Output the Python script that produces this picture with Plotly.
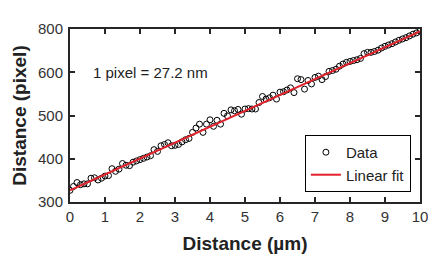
import plotly.graph_objects as go

# Data: distance along profile (µm) vs distance (pixel)
x_um = [round(i * 0.1, 1) for i in range(101)]
y_pixel = [327, 336, 345, 340, 342, 342, 355, 356, 351, 355,
           360, 361, 377, 371, 376, 389, 385, 384, 392, 395,
           398, 401, 404, 407, 421, 417, 430, 433, 437, 430,
           431, 433, 439, 444, 447, 461, 471, 480, 461, 480,
           490, 475, 489, 480, 505, 499, 513, 511, 514, 503,
           515, 516, 515, 515, 530, 544, 538, 541, 547, 538,
           554, 555, 559, 564, 553, 585, 583, 561, 581, 573,
           588, 591, 583, 590, 602, 604, 607, 614, 619, 623,
           625, 627, 629, 632, 643, 646, 646, 648, 651, 656,
           660, 663, 666, 670, 674, 677, 680, 684, 688, 691,
           695]

fit_x = [0, 10]
fit_y = [327.0, 694.6]

x_ticks = list(range(0, 11))
y_tickvals = [300, 400, 500, 600, 700]
y_ticktext = ["300", "400", "500", "600", "800"]

FONT = "Liberation Sans, Arial, sans-serif"
AX = "#262626"

fig = go.Figure()
fig.add_trace(go.Scatter(
    x=x_um, y=y_pixel, mode="markers", name="Data",
    marker=dict(symbol="circle-open", size=6, color="black",
                line=dict(width=1, color="black")),
))
fig.add_trace(go.Scatter(
    x=fit_x, y=fit_y, mode="lines", name="Linear fit",
    line=dict(color="#e3212b", width=2),
))

axis_common = dict(
    showline=True, linewidth=2, linecolor=AX, mirror="ticks",
    ticks="inside", ticklen=5, tickwidth=1.5, tickcolor=AX,
    showgrid=False, zeroline=False, automargin=False,
    tickfont=dict(family=FONT, size=15, color="#333333"),
)

fig.update_xaxes(
    range=[0, 10], tickvals=x_ticks, **axis_common,
    title=dict(text="<b>Distance (µm)</b>", standoff=13,
               font=dict(family=FONT, size=19, color="#222222")),
)
fig.update_yaxes(
    range=[300, 700], tickvals=y_tickvals, ticktext=y_ticktext,
    ticklabelstandoff=2, **axis_common,
    title=dict(text="<b>Distance (pixel)</b>", standoff=6,
               font=dict(family=FONT, size=19, color="#222222")),
)

fig.add_annotation(
    x=0.59, y=600, xref="x", yref="y", text="1 pixel = 27.2 nm",
    showarrow=False, xanchor="left", yanchor="middle",
    font=dict(family=FONT, size=15, color="#222222"),
)

# The page body adds an 8px offset, so the figure is sized to fit the window.
fig.update_layout(
    width=428, height=264,
    margin=dict(l=62, r=16, t=21, b=70),
    paper_bgcolor="white", plot_bgcolor="white",
    showlegend=True,
    legend=dict(
        x=0.974, y=0.058, xanchor="right", yanchor="bottom",
        bgcolor="white", bordercolor="black", borderwidth=1,
        font=dict(family=FONT, size=15, color="#222222"),
        itemwidth=30, tracegroupgap=0,
    ),
)

fig.write_html("out.html")
